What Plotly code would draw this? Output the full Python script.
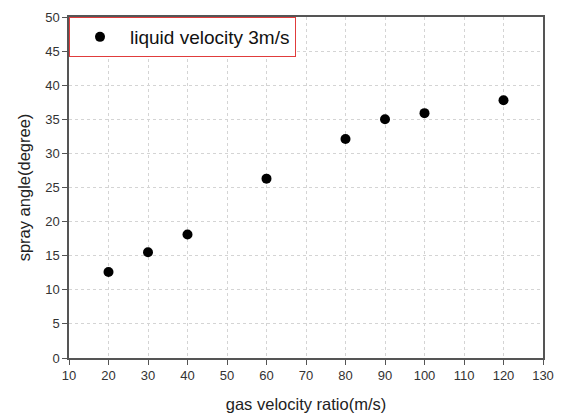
import plotly.graph_objects as go

gas_velocity = [20, 30, 40, 60, 80, 90, 100, 120]
spray_angle = [12.6, 15.5, 18.1, 26.3, 32.1, 35.0, 35.9, 37.8]
series_name = "liquid velocity 3m/s"
x_ticks = list(range(10, 131, 10))
y_ticks = list(range(0, 51, 5))

fig = go.Figure()
fig.add_trace(go.Scatter(
    x=gas_velocity, y=spray_angle, mode="markers", name=series_name,
    marker=dict(color="black", size=10),
))

axis_common = dict(
    showline=True, linecolor="#555555", linewidth=1.5, mirror=True,
    ticks="outside", ticklen=5, tickcolor="#555555", tickwidth=1,
    showgrid=True, gridcolor="#d4d4d4", griddash="dot", gridwidth=1,
    zeroline=False, automargin=False,
    tickfont=dict(family="Liberation Sans, Arial", size=13, color="#333333"),
    title_font=dict(family="Liberation Sans, Arial", size=16.5, color="#222222"),
)

fig.update_xaxes(range=[10, 130], tickvals=x_ticks, title_text="gas velocity ratio(m/s)",
                 title_standoff=16, **axis_common)
fig.update_yaxes(range=[0, 50], tickvals=y_ticks, title_text="spray angle(degree)",
                 title_standoff=10, **axis_common)

fig.update_layout(
    width=562, height=414,
    margin=dict(l=69, r=19, t=17, b=56),
    plot_bgcolor="white", paper_bgcolor="white",
    showlegend=True,
    legend=dict(
        x=0, y=1, xanchor="left", yanchor="top",
        bgcolor="white", bordercolor="#e03c3c", borderwidth=1,
        font=dict(family="Liberation Sans, Arial", size=19, color="#111111"),
        itemwidth=50,
    ),
)

fig.write_html("out.html")
